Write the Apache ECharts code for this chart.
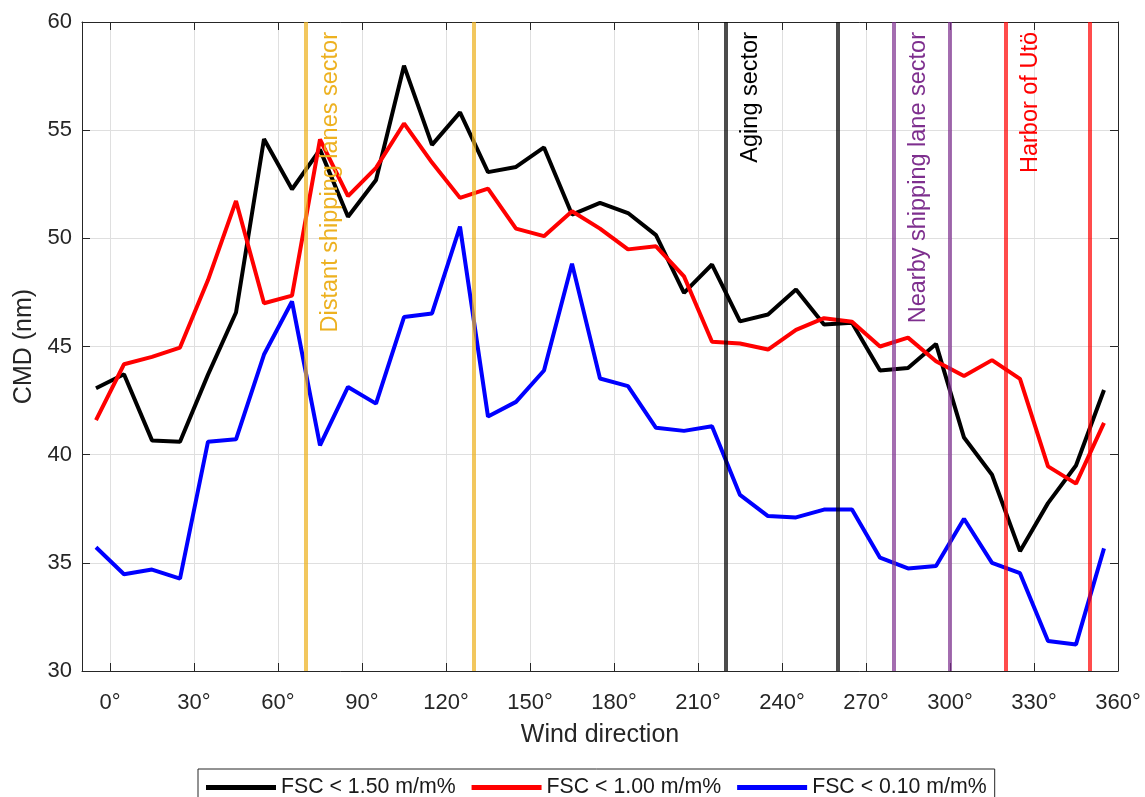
<!DOCTYPE html>
<html>
<head>
<meta charset="utf-8">
<script src="https://cdn.jsdelivr.net/npm/echarts@6/dist/echarts.min.js"></script>
<style>
  html, body { margin: 0; padding: 0; background: #ffffff; }
  #chart { width: 1145px; height: 797px; }
</style>
</head>
<body>
<div id="chart"></div>
<script>
// Wind direction bin centres (degrees)
const directions = [-5, 5, 15, 25, 35, 45, 55, 65, 75, 85, 95, 105, 115, 125, 135, 145, 155, 165, 175,
  185, 195, 205, 215, 225, 235, 245, 255, 265, 275, 285, 295, 305, 315, 325, 335, 345, 355];

// Count median diameter (nm) per wind direction bin, for three FSC thresholds
const cmdFsc150 = [43.07, 43.72, 40.66, 40.60, 43.70, 46.57, 54.59, 52.27, 54.10, 51.00, 52.70, 57.98,
  54.32, 55.82, 53.06, 53.30, 54.20, 51.10, 51.64, 51.17, 50.15, 47.48, 48.79, 46.16, 46.48, 47.64,
  46.02, 46.10, 43.89, 44.01, 45.12, 40.79, 39.07, 35.54, 37.76, 39.50, 42.99];
const cmdFsc100 = [41.60, 44.18, 44.52, 44.95, 48.07, 51.73, 47.00, 47.35, 54.57, 51.95, 53.26, 55.31,
  53.50, 51.87, 52.30, 50.45, 50.10, 51.25, 50.45, 49.49, 49.63, 48.24, 45.22, 45.14, 44.86, 45.77,
  46.31, 46.14, 45.00, 45.41, 44.32, 43.64, 44.37, 43.50, 39.46, 38.66, 41.47];
const cmdFsc010 = [35.72, 34.47, 34.69, 34.27, 40.60, 40.71, 44.63, 47.08, 40.43, 43.13, 42.36, 46.36,
  46.53, 50.54, 41.76, 42.44, 43.89, 48.83, 43.52, 43.17, 41.24, 41.10, 41.31, 38.14, 37.16, 37.10,
  37.46, 37.46, 35.24, 34.74, 34.85, 37.04, 35.00, 34.52, 31.39, 31.23, 35.67];

const seriesNames = ['FSC < 1.50 m/m%', 'FSC < 1.00 m/m%', 'FSC < 0.10 m/m%'];

// Wind sectors (bounds in degrees)
const sectorNames = ['Distant shipping lanes sector', 'Aging sector', 'Nearby shipping lane sector', 'Harbor of Utö'];
const sectorStart = [70, 220, 280, 320];
const sectorEnd = [130, 260, 300, 350];

// Axis ticks
const xTickValues = [0, 30, 60, 90, 120, 150, 180, 210, 240, 270, 300, 330, 360];
const yTickValues = [30, 35, 40, 45, 50, 55, 60];

const FONT = "'Liberation Sans', Arial, Helvetica, sans-serif";
const AXIS_COLOR = '#262626';
const GRID_COLOR = '#dfdfdf';

const lineColors = ['#000000', '#ff0000', '#0000ff'];
const sectorLineColors = ['rgba(237,177,32,0.72)', 'rgba(0,0,0,0.7)', 'rgba(126,47,142,0.7)', 'rgba(255,0,0,0.7)'];
const sectorTextColors = ['#EDB120', '#000000', '#7E2F8E', '#ff0000'];

function pairs(values) {
  return directions.map((d, i) => [d, values[i]]);
}

const markLineData = [];
sectorNames.forEach((name, i) => {
  markLineData.push({
    xAxis: sectorStart[i],
    lineStyle: { color: sectorLineColors[i], width: 4, type: 'solid' },
    label: {
      show: true,
      formatter: name,
      position: 'insideEndBottom',
      distance: [10, 13],
      color: sectorTextColors[i],
      fontFamily: FONT,
      fontSize: 23.5
    }
  });
  markLineData.push({
    xAxis: sectorEnd[i],
    lineStyle: { color: sectorLineColors[i], width: 4, type: 'solid' },
    label: { show: false }
  });
});

const chart = echarts.init(document.getElementById('chart'), null, { renderer: 'canvas' });

const commonTick = { show: true, inside: true, length: 8, lineStyle: { color: AXIS_COLOR, width: 1 } };

chart.setOption({
  animation: false,
  backgroundColor: '#ffffff',
  textStyle: { fontFamily: FONT },
  grid: { left: 82, right: 27, top: 22, bottom: 126, containLabel: false },
  legend: {
    data: seriesNames,
    left: 198,
    top: 769,
    orient: 'horizontal',
    icon: 'rect',
    itemWidth: 70,
    itemHeight: 5,
    itemGap: 16,
    padding: [8, 8, 8, 8],
    borderColor: AXIS_COLOR,
    borderWidth: 1,
    backgroundColor: '#ffffff',
    textStyle: { fontSize: 21.3, color: '#1a1a1a', fontFamily: FONT }
  },
  xAxis: [
    {
      type: 'value',
      min: -10,
      max: 360,
      position: 'bottom',
      name: 'Wind direction',
      nameLocation: 'middle',
      nameGap: 52,
      nameTextStyle: { fontSize: 25, color: AXIS_COLOR, fontFamily: FONT },
      axisLine: { show: true, onZero: false, lineStyle: { color: AXIS_COLOR, width: 1 } },
      axisTick: Object.assign({ customValues: xTickValues }, commonTick),
      axisLabel: {
        customValues: xTickValues,
        formatter: '{value}°',
        fontSize: 22,
        color: AXIS_COLOR,
        margin: 21,
        fontFamily: FONT
      },
      splitLine: { show: true, lineStyle: { color: GRID_COLOR, width: 1 } }
    },
    {
      type: 'value',
      min: -10,
      max: 360,
      position: 'top',
      axisLine: { show: true, onZero: false, lineStyle: { color: AXIS_COLOR, width: 1 } },
      axisTick: Object.assign({ customValues: xTickValues }, commonTick),
      axisLabel: { show: false, customValues: xTickValues },
      splitLine: { show: false }
    }
  ],
  yAxis: [
    {
      type: 'value',
      min: 30,
      max: 60,
      interval: 5,
      position: 'left',
      name: 'CMD (nm)',
      nameLocation: 'middle',
      nameGap: 43,
      nameTextStyle: { fontSize: 25, color: AXIS_COLOR, fontFamily: FONT },
      axisLine: { show: true, onZero: false, lineStyle: { color: AXIS_COLOR, width: 1 } },
      axisTick: commonTick,
      axisLabel: { fontSize: 22, color: AXIS_COLOR, margin: 10, fontFamily: FONT },
      splitLine: { show: true, lineStyle: { color: GRID_COLOR, width: 1 } }
    },
    {
      type: 'value',
      min: 30,
      max: 60,
      interval: 5,
      position: 'right',
      axisLine: { show: true, onZero: false, lineStyle: { color: AXIS_COLOR, width: 1 } },
      axisTick: commonTick,
      axisLabel: { show: false },
      splitLine: { show: false }
    }
  ],
  series: [
    {
      name: seriesNames[0], type: 'line', data: pairs(cmdFsc150), symbol: 'none',
      lineStyle: { color: lineColors[0], width: 4 }, itemStyle: { color: lineColors[0] }, z: 2
    },
    {
      name: seriesNames[1], type: 'line', data: pairs(cmdFsc100), symbol: 'none',
      lineStyle: { color: lineColors[1], width: 4 }, itemStyle: { color: lineColors[1] }, z: 2
    },
    {
      name: seriesNames[2], type: 'line', data: pairs(cmdFsc010), symbol: 'none',
      lineStyle: { color: lineColors[2], width: 4 }, itemStyle: { color: lineColors[2] }, z: 2
    },
    {
      name: 'sectors', type: 'line', data: [], z: 5,
      markLine: {
        silent: true,
        animation: false,
        symbol: ['none', 'none'],
        emphasis: { disabled: true },
        data: markLineData
      }
    }
  ]
});
</script>
</body>
</html>
